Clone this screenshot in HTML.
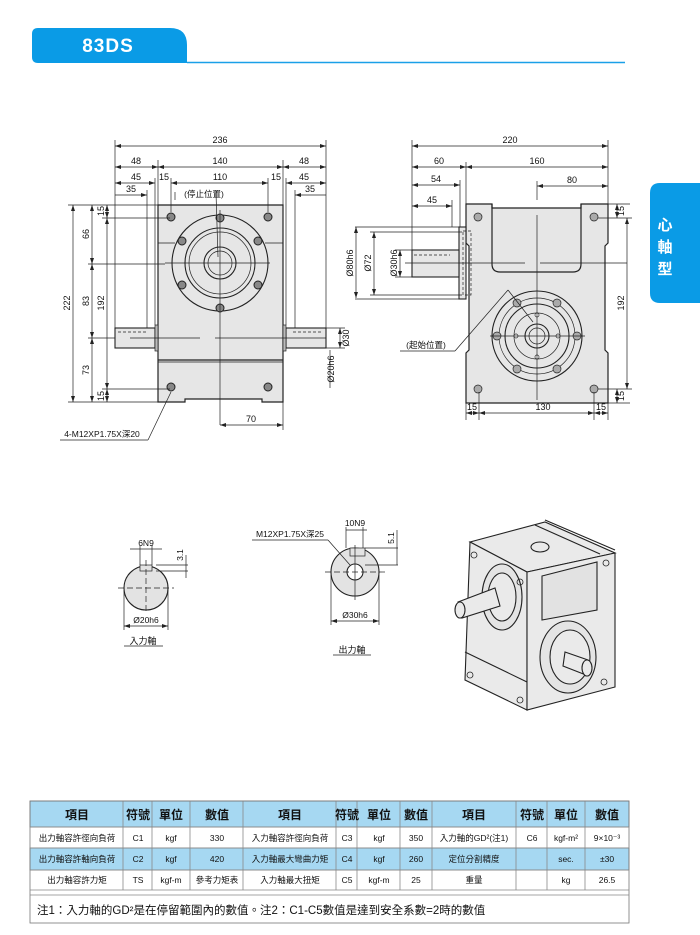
<!DOCTYPE html>
<html><head><meta charset="utf-8"><style>
html,body{margin:0;padding:0;background:#fff;}
svg{display:block;font-family:"Liberation Sans","Noto Sans CJK TC",sans-serif;}
</style></head><body>
<svg width="700" height="935" viewBox="0 0 700 935" xmlns="http://www.w3.org/2000/svg">
<defs>
<marker id="a" markerWidth="6" markerHeight="4" refX="6" refY="2" orient="auto-start-reverse" markerUnits="userSpaceOnUse"><path d="M0,0 L6,2 L0,4z" fill="#222"/></marker>
</defs>
<path d="M38,28 H170 Q187,28 187,45 V63 H38 Q32,63 32,57 V34 Q32,28 38,28z" fill="#0a9be6"/>
<line x1="187" y1="62.5" x2="625" y2="62.5" stroke="#1aa0e8" stroke-width="1.5"/>
<text x="108" y="52" fill="#fff" font-size="19" font-weight="bold" text-anchor="middle" letter-spacing="1">83DS</text>
<path d="M660,183 H700 V303 H660 Q650,303 650,293 V193 Q650,183 660,183z" fill="#0a9be6"/>
<text fill="#fff" font-size="15" font-weight="bold" text-anchor="middle"><tspan x="665" y="230">心</tspan><tspan x="665" y="252">軸</tspan><tspan x="665" y="274">型</tspan></text>

<g stroke="#222" stroke-width="0.7" fill="none" font-size="9">
<path d="M158,205 H283 V402 H262 V399 H185 V402 H158z" fill="#e6e6e6" stroke-width="1.2"/>
<line x1="158" y1="360" x2="283" y2="360" stroke-width="1.2"/>
<line x1="158" y1="362" x2="283" y2="362"/>
<line x1="158" y1="243" x2="175" y2="243"/><line x1="265" y1="243" x2="283" y2="243"/>
<rect x="115" y="328" width="40" height="20" fill="#e6e6e6" stroke-width="1.1"/>
<rect x="155" y="325" width="3" height="26" fill="#bbb"/>
<rect x="286" y="328" width="40" height="20" fill="#e6e6e6" stroke-width="1.1"/>
<rect x="283" y="325" width="3" height="26" fill="#bbb"/>
<line x1="118" y1="332" x2="148" y2="332" stroke-dasharray="3,2"/><line x1="293" y1="332" x2="323" y2="332" stroke-dasharray="3,2"/>
<circle cx="220" cy="263" r="48" stroke-width="1.1"/>
<circle cx="220" cy="263" r="35" stroke-width="1.1"/>
<circle cx="220" cy="263" r="31"/>
<circle cx="220" cy="263" r="16" stroke-width="1.1"/>
<circle cx="220" cy="263" r="12"/>
<g fill="#888" stroke-width="1">
<circle cx="220" cy="218" r="4"/><circle cx="220" cy="308" r="4"/>
<circle cx="182" cy="241" r="4"/><circle cx="258" cy="241" r="4"/>
<circle cx="182" cy="285" r="4"/><circle cx="258" cy="285" r="4"/>
<circle cx="171" cy="217" r="4"/><circle cx="268" cy="217" r="4"/>
<circle cx="171" cy="387" r="4"/><circle cx="268" cy="387" r="4"/>
</g>
<line x1="220" y1="210" x2="220" y2="425"/>
<line x1="165" y1="263" x2="270" y2="263"/>
<line x1="130" y1="338" x2="200" y2="338"/><line x1="215" y1="338" x2="326" y2="338"/>
<line x1="115" y1="146" x2="326" y2="146" marker-start="url(#a)" marker-end="url(#a)"/>
<line x1="115" y1="167" x2="158" y2="167" marker-start="url(#a)" marker-end="url(#a)"/>
<line x1="158" y1="167" x2="283" y2="167" marker-start="url(#a)" marker-end="url(#a)"/>
<line x1="283" y1="167" x2="326" y2="167" marker-start="url(#a)" marker-end="url(#a)"/>
<line x1="115" y1="183" x2="155" y2="183" marker-start="url(#a)" marker-end="url(#a)"/>
<line x1="171" y1="183" x2="268" y2="183" marker-start="url(#a)" marker-end="url(#a)"/>
<line x1="286" y1="183" x2="326" y2="183" marker-start="url(#a)" marker-end="url(#a)"/>
<line x1="115" y1="195" x2="147" y2="195" marker-end="url(#a)"/>
<line x1="295" y1="195" x2="326" y2="195" marker-start="url(#a)"/>
<line x1="115" y1="140" x2="115" y2="328"/><line x1="326" y1="140" x2="326" y2="328"/>
<line x1="158" y1="160" x2="158" y2="205"/><line x1="283" y1="160" x2="283" y2="205"/>
<line x1="155" y1="178" x2="155" y2="325"/><line x1="286" y1="178" x2="286" y2="325"/>
<line x1="171" y1="178" x2="171" y2="212"/><line x1="268" y1="178" x2="268" y2="212"/>
<line x1="147" y1="190" x2="147" y2="328"/><line x1="295" y1="190" x2="295" y2="328"/>
<line x1="73" y1="205" x2="73" y2="402" marker-start="url(#a)" marker-end="url(#a)"/>
<line x1="92" y1="205" x2="92" y2="264" marker-start="url(#a)" marker-end="url(#a)"/>
<line x1="92" y1="264" x2="92" y2="338" marker-start="url(#a)" marker-end="url(#a)"/>
<line x1="92" y1="338" x2="92" y2="402" marker-start="url(#a)" marker-end="url(#a)"/>
<line x1="107" y1="205" x2="107" y2="218" marker-start="url(#a)" marker-end="url(#a)"/>
<line x1="107" y1="218" x2="107" y2="389" marker-start="url(#a)" marker-end="url(#a)"/>
<line x1="107" y1="389" x2="107" y2="402" marker-start="url(#a)" marker-end="url(#a)"/>
<line x1="68" y1="205" x2="158" y2="205"/><line x1="68" y1="402" x2="158" y2="402"/>
<line x1="88" y1="264" x2="165" y2="264"/><line x1="102" y1="218" x2="170" y2="218"/><line x1="102" y1="389" x2="170" y2="389"/>
<line x1="88" y1="338" x2="115" y2="338"/>
<line x1="356" y1="227" x2="356" y2="298" marker-start="url(#a)" marker-end="url(#a)"/>
<line x1="340" y1="328" x2="340" y2="348" marker-start="url(#a)" marker-end="url(#a)"/>
<line x1="330" y1="350" x2="330" y2="388"/>
<line x1="326" y1="328" x2="345" y2="328"/><line x1="326" y1="348" x2="345" y2="348"/>
<line x1="220" y1="425" x2="283" y2="425" marker-start="url(#a)" marker-end="url(#a)"/>
<line x1="283" y1="402" x2="283" y2="430"/>
<line x1="60" y1="440" x2="148" y2="440"/><line x1="148" y1="440" x2="171" y2="392"/>
<!-- RIGHT VIEW -->
<path d="M466,204 H492 V208 H581 V204 H608 V243 L605,246 V350 L608,353 V403 H466 V353 L469,350 V246 L466,243z" fill="#e6e6e6" stroke-width="1.2"/>
<path d="M492,204 V264 Q492,272 500,272 H573 Q581,272 581,264 V204" stroke-width="1.2"/>
<rect x="459" y="227" width="7" height="72" fill="#e6e6e6" stroke-width="1.1"/>
<rect x="463" y="231" width="8" height="64" stroke-dasharray="3,2"/>
<rect x="412" y="250" width="47" height="27" fill="#e6e6e6" stroke-width="1.1"/>
<line x1="414" y1="255" x2="450" y2="255" stroke-dasharray="3,2"/>
<circle cx="537" cy="336" r="45" stroke-width="1.1"/>
<circle cx="537" cy="336" r="38"/>
<circle cx="537" cy="336" r="32" stroke-width="1.1"/>
<circle cx="537" cy="336" r="23"/>
<circle cx="537" cy="336" r="12" stroke-width="1.1"/>
<circle cx="537" cy="336" r="8"/>
<g fill="#aaa"><circle cx="517" cy="303" r="4"/><circle cx="557" cy="303" r="4"/><circle cx="517" cy="369" r="4"/><circle cx="557" cy="369" r="4"/><circle cx="497" cy="336" r="4"/><circle cx="577" cy="336" r="4"/>
<circle cx="478" cy="217" r="4"/><circle cx="594" cy="217" r="4"/><circle cx="478" cy="389" r="4"/><circle cx="594" cy="389" r="4"/></g>
<g fill="#fff"><circle cx="537" cy="315" r="2"/><circle cx="537" cy="357" r="2"/><circle cx="516" cy="336" r="2"/><circle cx="558" cy="336" r="2"/></g>
<line x1="537" y1="215" x2="537" y2="400"/>
<line x1="490" y1="336" x2="585" y2="336"/>
<line x1="405" y1="263" x2="525" y2="263"/><line x1="540" y1="263" x2="627" y2="263"/>
<line x1="412" y1="146" x2="608" y2="146" marker-start="url(#a)" marker-end="url(#a)"/>
<line x1="412" y1="167" x2="466" y2="167" marker-start="url(#a)" marker-end="url(#a)"/>
<line x1="466" y1="167" x2="608" y2="167" marker-start="url(#a)" marker-end="url(#a)"/>
<line x1="412" y1="185" x2="460" y2="185" marker-start="url(#a)" marker-end="url(#a)"/>
<line x1="412" y1="206" x2="452" y2="206" marker-start="url(#a)" marker-end="url(#a)"/>
<line x1="537" y1="186" x2="608" y2="186" marker-start="url(#a)" marker-end="url(#a)"/>
<line x1="412" y1="140" x2="412" y2="250"/><line x1="608" y1="140" x2="608" y2="204"/>
<line x1="466" y1="162" x2="466" y2="204"/><line x1="460" y1="180" x2="460" y2="227"/><line x1="452" y1="200" x2="452" y2="227"/><line x1="537" y1="181" x2="537" y2="200"/>
<line x1="355" y1="227" x2="459" y2="227"/><line x1="355" y1="299" x2="459" y2="299"/>
<line x1="374" y1="232" x2="374" y2="295" marker-start="url(#a)" marker-end="url(#a)"/>
<line x1="370" y1="232" x2="462" y2="232"/><line x1="370" y1="295" x2="462" y2="295"/>
<line x1="400" y1="250" x2="400" y2="277" marker-start="url(#a)" marker-end="url(#a)"/>
<line x1="395" y1="250" x2="412" y2="250"/><line x1="395" y1="277" x2="412" y2="277"/>
<line x1="627" y1="218" x2="627" y2="389" marker-start="url(#a)" marker-end="url(#a)"/>
<line x1="617" y1="204" x2="617" y2="218" marker-start="url(#a)" marker-end="url(#a)"/>
<line x1="617" y1="389" x2="617" y2="403" marker-start="url(#a)" marker-end="url(#a)"/>
<line x1="608" y1="204" x2="630" y2="204"/><line x1="598" y1="218" x2="632" y2="218"/><line x1="598" y1="389" x2="632" y2="389"/><line x1="608" y1="403" x2="630" y2="403"/>
<line x1="466" y1="413" x2="479" y2="413" marker-start="url(#a)" marker-end="url(#a)"/>
<line x1="479" y1="413" x2="594" y2="413" marker-start="url(#a)" marker-end="url(#a)"/>
<line x1="594" y1="413" x2="608" y2="413" marker-start="url(#a)" marker-end="url(#a)"/>
<line x1="466" y1="403" x2="466" y2="420"/><line x1="479" y1="392" x2="479" y2="420"/><line x1="594" y1="392" x2="594" y2="420"/><line x1="608" y1="403" x2="608" y2="420"/>
<line x1="400" y1="351" x2="455" y2="351"/><line x1="455" y1="351" x2="508" y2="290"/><line x1="508" y1="290" x2="533" y2="322"/>
<line x1="175" y1="200" x2="175" y2="192"/><line x1="216" y1="193" x2="218" y2="257"/>
<!-- small shafts -->
<circle cx="146" cy="588" r="22" fill="#e3e3e3" stroke-width="1.1"/>
<rect x="140" y="565" width="12" height="6" fill="#e3e3e3"/>
<line x1="118" y1="588" x2="174" y2="588" stroke-dasharray="6,3"/><line x1="146" y1="560" x2="146" y2="612" stroke-dasharray="6,3"/>
<line x1="130" y1="549" x2="162" y2="549"/><line x1="140" y1="545" x2="140" y2="565"/><line x1="152" y1="545" x2="152" y2="565"/>
<line x1="124" y1="590" x2="124" y2="630"/><line x1="168" y1="590" x2="168" y2="630"/>
<line x1="124" y1="626" x2="168" y2="626" marker-start="url(#a)" marker-end="url(#a)"/>
<line x1="156" y1="565" x2="188" y2="565"/><line x1="156" y1="571" x2="188" y2="571"/>
<line x1="186" y1="555" x2="186" y2="578"/>
<line x1="124" y1="646" x2="163" y2="646"/>
<circle cx="355" cy="572" r="24" fill="#e3e3e3" stroke-width="1.1"/>
<rect x="350" y="548" width="15" height="8" fill="#e3e3e3"/>
<circle cx="355" cy="572" r="8" fill="#fff" stroke-width="1.1"/>
<line x1="325" y1="572" x2="385" y2="572" stroke-dasharray="6,3"/><line x1="355" y1="545" x2="355" y2="600"/>
<line x1="346" y1="530" x2="367" y2="530"/><line x1="346" y1="527" x2="346" y2="548"/><line x1="363" y1="527" x2="363" y2="548"/>
<line x1="331" y1="575" x2="331" y2="625"/><line x1="379" y1="575" x2="379" y2="625"/>
<line x1="331" y1="621" x2="379" y2="621" marker-start="url(#a)" marker-end="url(#a)"/>
<line x1="365" y1="548" x2="398" y2="548"/><line x1="365" y1="565" x2="398" y2="565"/><line x1="397" y1="530" x2="397" y2="565"/>
<line x1="252" y1="540" x2="328" y2="540"/><line x1="328" y1="540" x2="350" y2="565"/>
<line x1="333" y1="655" x2="371" y2="655"/>
<!-- isometric -->
<g stroke-width="1.1" fill="#eaeaea">
<path d="M470,542 L545,522 L615,553 L527,572z"/>
<path d="M470,542 L527,572 L527,710 L465,680z"/>
<path d="M527,572 L615,553 L615,687 L527,710z"/>
<path d="M542,576 L597,562 L597,610 L542,620z" fill="#e2e2e2"/>
<line x1="465" y1="652" x2="527" y2="682"/>
<line x1="545" y1="520" x2="615" y2="550"/><line x1="535" y1="525" x2="600" y2="554"/>
<ellipse cx="540" cy="547" rx="9" ry="5"/>
<ellipse cx="502" cy="597" rx="20" ry="33" fill="#e4e4e4"/>
<ellipse cx="502" cy="597" rx="14" ry="24"/>
<path d="M458,602 L495,588 L500,606 L462,618z"/>
<ellipse cx="460" cy="610" rx="5" ry="8"/>
<ellipse cx="568" cy="657" rx="28" ry="36" fill="#e4e4e4"/>
<ellipse cx="570" cy="657" rx="20" ry="27"/>
<path d="M565,652 L588,660 L586,675 L563,666z"/>
<ellipse cx="587" cy="668" rx="5" ry="8"/>
</g>
<g stroke-width="0.8"><circle cx="474" cy="555" r="3"/><circle cx="520" cy="582" r="3"/><circle cx="606" cy="563" r="3"/><circle cx="470" cy="675" r="3"/><circle cx="520" cy="700" r="3"/><circle cx="604" cy="682" r="3"/></g>
</g>
<g font-size="9" fill="#111" text-anchor="middle">
<text x="220" y="143">236</text><text x="136" y="164">48</text><text x="220" y="164">140</text><text x="304" y="164">48</text>
<text x="136" y="180">45</text><text x="164" y="180">15</text><text x="220" y="180">110</text><text x="276" y="180">15</text><text x="304" y="180">45</text>
<text x="131" y="192">35</text><text x="310" y="192">35</text>
<text x="204" y="197" font-size="8.5">(停止位置)</text>
<text transform="translate(70,303) rotate(-90)">222</text>
<text transform="translate(89,234) rotate(-90)">66</text><text transform="translate(89,301) rotate(-90)">83</text><text transform="translate(89,370) rotate(-90)">73</text>
<text transform="translate(104,211) rotate(-90)">15</text><text transform="translate(104,303) rotate(-90)">192</text><text transform="translate(104,396) rotate(-90)">15</text>
<text transform="translate(353,263) rotate(-90)">Ø80h6</text><text transform="translate(349,338) rotate(-90)">Ø30</text><text transform="translate(334,369) rotate(-90)">Ø20h6</text>
<text x="251" y="422">70</text>
<text x="102" y="437" font-size="8.5">4-M12XP1.75X深20</text>
<text x="510" y="143">220</text><text x="439" y="164">60</text><text x="537" y="164">160</text>
<text x="436" y="182">54</text><text x="432" y="203">45</text><text x="572" y="183">80</text>
<text transform="translate(371,263) rotate(-90)">Ø72</text><text transform="translate(397,263) rotate(-90)">Ø30h6</text>
<text transform="translate(624,303) rotate(-90)">192</text><text transform="translate(624,211) rotate(-90)">15</text><text transform="translate(624,396) rotate(-90)">15</text>
<text x="472" y="410">15</text><text x="543" y="410">130</text><text x="601" y="410">15</text>
<text x="426" y="348" font-size="8.5">(起始位置)</text>
<text x="146" y="546" font-size="8.5">6N9</text><text transform="translate(183,555) rotate(-90)" font-size="8.5">3.1</text>
<text x="146" y="623" font-size="8.5">Ø20h6</text><text x="143" y="644" font-size="9">入力軸</text>
<text x="355" y="526" font-size="8.5">10N9</text><text transform="translate(394,538) rotate(-90)" font-size="8.5">5.1</text>
<text x="355" y="618" font-size="8.5">Ø30h6</text><text x="352" y="653" font-size="9">出力軸</text>
<text x="290" y="537" font-size="8.5">M12XP1.75X深25</text>
</g>
<g stroke="#888" stroke-width="0.8">
<rect x="30" y="801" width="599" height="26" fill="#a6d8f2"/>
<rect x="30" y="848" width="599" height="22" fill="#a6d8f2"/>
<rect x="30" y="801" width="599" height="122" fill="none" stroke="#777"/>
<line x1="30" y1="827" x2="629" y2="827"/><line x1="30" y1="848" x2="629" y2="848"/><line x1="30" y1="870" x2="629" y2="870"/><line x1="30" y1="890" x2="629" y2="890"/>
<line x1="30" y1="895" x2="629" y2="895"/>
<g><line x1="123" y1="801" x2="123" y2="890"/><line x1="152" y1="801" x2="152" y2="890"/><line x1="190" y1="801" x2="190" y2="890"/><line x1="243" y1="801" x2="243" y2="890"/><line x1="336" y1="801" x2="336" y2="890"/><line x1="357" y1="801" x2="357" y2="890"/><line x1="400" y1="801" x2="400" y2="890"/><line x1="432" y1="801" x2="432" y2="890"/><line x1="516" y1="801" x2="516" y2="890"/><line x1="547" y1="801" x2="547" y2="890"/><line x1="585" y1="801" x2="585" y2="890"/></g>
</g>
<g fill="#111" text-anchor="middle" font-size="12" font-weight="bold">
<text x="77" y="819">項目</text><text x="138" y="819">符號</text><text x="171" y="819">單位</text><text x="217" y="819">數值</text>
<text x="290" y="819">項目</text><text x="347" y="819">符號</text><text x="379" y="819">單位</text><text x="416" y="819">數值</text>
<text x="474" y="819">項目</text><text x="532" y="819">符號</text><text x="566" y="819">單位</text><text x="607" y="819">數值</text>
</g>
<g fill="#111" text-anchor="middle" font-size="8.5">
<text x="77" y="841">出力軸容許徑向負荷</text><text x="138" y="841">C1</text><text x="171" y="841">kgf</text><text x="217" y="841">330</text>
<text x="290" y="841">入力軸容許徑向負荷</text><text x="347" y="841">C3</text><text x="379" y="841">kgf</text><text x="416" y="841">350</text>
<text x="474" y="841">入力軸的GD²(注1)</text><text x="532" y="841">C6</text><text x="566" y="841">kgf-m²</text><text x="607" y="841">9×10⁻³</text>
<text x="77" y="862">出力軸容許軸向負荷</text><text x="138" y="862">C2</text><text x="171" y="862">kgf</text><text x="217" y="862">420</text>
<text x="290" y="862">入力軸最大彎曲力矩</text><text x="347" y="862">C4</text><text x="379" y="862">kgf</text><text x="416" y="862">260</text>
<text x="474" y="862">定位分割精度</text><text x="566" y="862">sec.</text><text x="607" y="862">±30</text>
<text x="77" y="883">出力軸容許力矩</text><text x="138" y="883">TS</text><text x="171" y="883">kgf-m</text><text x="217" y="883">參考力矩表</text>
<text x="290" y="883">入力軸最大扭矩</text><text x="347" y="883">C5</text><text x="379" y="883">kgf-m</text><text x="416" y="883">25</text>
<text x="474" y="883">重量</text><text x="566" y="883">kg</text><text x="607" y="883">26.5</text>
</g>
<text x="37" y="914" font-size="11.5" fill="#111">注1：入力軸的GD²是在停留範圍內的數值。注2：C1-C5數值是達到安全系數=2時的數值</text>
</svg>
</body></html>
